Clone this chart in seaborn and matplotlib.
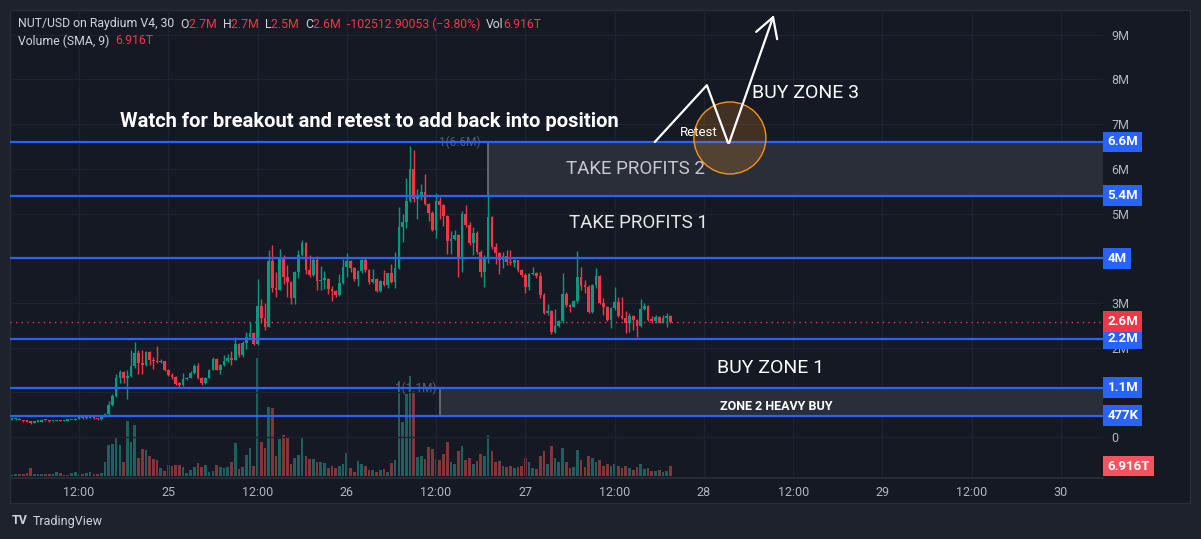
from __future__ import annotations

import matplotlib

matplotlib.use("Agg")
import matplotlib.pyplot as plt
import matplotlib.transforms as mtransforms
import numpy as np
import pandas as pd
import seaborn as sns
from matplotlib.patches import Ellipse, Rectangle

W, H = 1201, 539

# 30 minute bars, bar 0 = 24th 03:00. prices in millions (M), volume in trillions (T)
first_open = 0.39
closes = [
    0.40, 0.41, 0.38, 0.35, 0.34, 0.32, 0.34, 0.345, 0.38, 0.37, 0.35, 0.355, 0.37, 0.36, 0.365, 0.37,
    0.38, 0.41, 0.43, 0.42, 0.43, 0.44, 0.42, 0.40, 0.45, 0.51, 0.72, 0.92, 1.31, 1.46, 1.31, 1.37,
    1.59, 1.87, 1.65, 1.61, 1.90, 1.72, 1.69, 1.68, 1.70, 1.50, 1.39, 1.35, 1.19, 1.17, 1.30, 1.33,
    1.43, 1.59, 1.33, 1.20, 1.33, 1.51, 1.74, 1.51, 1.61, 1.71, 1.77, 1.72, 2.08, 1.83, 2.11, 2.24,
    2.33, 2.07, 2.92, 2.66, 2.45, 3.94, 3.33, 3.30, 4.03, 3.59, 3.47, 3.10, 3.70, 4.07, 4.35, 3.74,
    3.63, 3.96, 3.49, 3.52, 3.53, 3.31, 3.26, 3.18, 3.44, 3.81, 3.94, 3.78, 3.53, 3.71, 3.96, 3.74,
    3.47, 3.53, 3.27, 3.49, 3.40, 3.66, 3.47, 3.79, 4.69, 4.82, 5.28, 6.00, 5.32, 5.37, 5.49, 5.21,
    5.02, 4.63, 5.29, 5.19, 4.94, 4.39, 4.42, 4.52, 4.03, 4.99, 4.74, 4.35, 4.56, 4.15, 3.70, 3.98,
    4.93, 4.26, 4.11, 3.96, 4.05, 3.92, 3.89, 3.95, 3.74, 3.62, 3.35, 3.65, 3.67, 3.60, 3.18, 2.78,
    2.82, 2.36, 2.48, 2.60, 3.20, 2.95, 2.91, 3.04, 3.59, 3.38, 3.36, 2.80, 3.39, 3.60, 2.99, 2.90,
    2.62, 2.88, 3.03, 2.71, 2.66, 2.56, 2.71, 2.62, 2.48, 2.86, 2.93, 2.62, 2.60, 2.68, 2.56, 2.66,
    2.71, 2.58,
]
highs = [
    0.41, 0.43, 0.42, 0.38, 0.36, 0.35, 0.35, 0.36, 0.40, 0.39, 0.38, 0.36, 0.38, 0.38, 0.37, 0.38,
    0.39, 0.42, 0.45, 0.44, 0.44, 0.46, 0.45, 0.43, 0.47, 0.54, 0.80, 0.97, 1.40, 1.50, 1.47, 1.50,
    1.95, 2.13, 1.95, 1.95, 1.93, 1.92, 1.78, 2.04, 1.75, 1.71, 1.52, 1.44, 1.36, 1.23, 1.44, 1.35,
    1.47, 1.63, 1.65, 1.35, 1.35, 1.53, 1.80, 1.77, 1.63, 1.83, 1.85, 1.93, 2.23, 2.10, 2.15, 2.36,
    2.58, 2.36, 3.53, 3.08, 3.00, 4.18, 4.30, 3.70, 4.21, 4.08, 3.85, 3.50, 3.72, 4.18, 4.41, 4.36,
    4.07, 4.00, 4.05, 3.83, 3.71, 3.55, 3.38, 3.28, 3.64, 3.98, 4.11, 3.96, 3.80, 3.73, 3.98, 4.01,
    3.76, 3.76, 3.55, 3.52, 3.74, 3.68, 3.86, 4.14, 5.14, 4.99, 5.80, 6.51, 6.42, 5.54, 5.66, 5.88,
    5.24, 5.05, 5.45, 5.37, 5.21, 4.96, 4.60, 4.63, 4.55, 5.05, 5.20, 4.80, 4.69, 4.60, 4.18, 4.07,
    5.45, 4.95, 4.35, 4.15, 4.15, 4.18, 4.18, 3.98, 3.97, 3.75, 3.66, 3.68, 3.80, 3.70, 3.70, 3.22,
    2.98, 2.84, 2.86, 2.62, 3.68, 3.25, 2.97, 3.06, 4.17, 3.81, 3.51, 3.40, 3.42, 3.77, 3.62, 3.10,
    2.92, 2.90, 3.36, 3.13, 3.14, 2.83, 2.77, 2.73, 2.64, 3.08, 2.99, 2.95, 2.70, 2.74, 2.70, 2.73,
    2.77, 2.72,
]
lows = [
    0.38, 0.39, 0.37, 0.33, 0.33, 0.30, 0.31, 0.33, 0.34, 0.36, 0.34, 0.34, 0.35, 0.35, 0.35, 0.36,
    0.37, 0.37, 0.40, 0.41, 0.41, 0.42, 0.41, 0.39, 0.39, 0.44, 0.50, 0.70, 0.90, 1.20, 1.20, 0.86,
    1.35, 1.55, 1.40, 1.40, 1.58, 1.60, 1.52, 1.66, 1.66, 1.48, 1.36, 1.30, 1.17, 1.10, 1.15, 1.28,
    1.32, 1.42, 1.29, 1.17, 1.18, 1.32, 1.50, 1.49, 1.42, 1.58, 1.68, 1.62, 1.72, 1.80, 1.80, 1.98,
    2.20, 2.05, 2.06, 2.55, 2.40, 2.45, 3.25, 3.14, 3.28, 3.42, 3.14, 2.98, 2.98, 3.55, 4.05, 3.64,
    3.57, 3.60, 3.28, 3.28, 3.32, 3.21, 3.04, 3.14, 3.15, 3.42, 3.59, 3.70, 3.50, 3.38, 3.68, 3.70,
    3.43, 3.45, 3.25, 3.25, 3.38, 3.34, 3.45, 3.34, 3.75, 4.37, 4.67, 5.25, 5.25, 4.88, 5.30, 5.18,
    4.83, 4.60, 4.46, 4.87, 4.72, 4.09, 4.10, 4.40, 3.59, 3.70, 4.70, 4.30, 4.07, 4.10, 3.58, 3.35,
    3.90, 4.20, 3.87, 3.65, 3.79, 3.85, 3.85, 3.80, 3.70, 3.58, 3.23, 3.30, 3.62, 3.56, 3.10, 2.75,
    2.74, 2.30, 2.33, 2.45, 2.55, 2.90, 2.80, 2.90, 3.00, 3.30, 3.23, 2.78, 2.78, 3.33, 2.97, 2.73,
    2.60, 2.43, 2.85, 2.68, 2.64, 2.33, 2.36, 2.39, 2.24, 2.45, 2.84, 2.60, 2.55, 2.55, 2.54, 2.54,
    2.45, 2.54,
]
volumes = [
    0.7, 1.4, 1.4, 1.4, 2.1, 5.4, 1.4, 1.4, 1.4, 1.4, 1.4, 1.4, 2.8, 1.9, 0.7, 0.7, 2.1, 2.8, 1.4, 1.4,
    2.1, 2.8, 1.4, 1.4, 2.1, 9.8, 21.7, 22.4, 26.6, 21.7, 9.8, 37.8, 23.8, 35.0, 12.6, 18.9, 18.2, 14.0,
    11.9, 11.2, 5.6, 3.5, 7.7, 7.0, 7.7, 7.7, 6.3, 2.1, 4.2, 6.3, 9.1, 6.3, 7.7, 2.8, 3.5, 7.7, 6.3,
    5.6, 6.3, 9.8, 23.1, 4.9, 6.3, 14.7, 19.6, 7.0, 81.2, 23.8, 19.6, 47.6, 46.9, 14.0, 25.2, 28.0,
    26.6, 8.4, 12.6, 14.7, 25.9, 14.0, 11.9, 11.9, 9.8, 9.8, 9.1, 5.6, 7.0, 5.6, 7.0, 8.4, 16.1, 5.6,
    2.8, 10.5, 8.4, 7.0, 4.2, 4.2, 2.8, 4.2, 4.9, 2.8, 9.1, 11.2, 65.8, 37.1, 56.7, 69.3, 57.4, 13.3,
    14.0, 11.9, 20.3, 18.9, 11.9, 11.2, 15.4, 23.8, 9.8, 8.4, 17.5, 21.0, 11.2, 12.6, 8.4, 10.5, 15.4,
    14.0, 28.0, 17.5, 9.8, 10.5, 7.0, 6.3, 7.0, 5.6, 6.3, 7.0, 12.6, 9.8, 5.6, 4.9, 14.0, 17.5, 8.4,
    21.0, 12.6, 9.8, 19.6, 9.8, 5.6, 6.3, 18.2, 11.2, 6.3, 14.0, 12.6, 9.8, 11.2, 7.0, 8.4, 7.0, 8.4,
    7.0, 5.6, 7.0, 5.6, 4.2, 6.3, 8.4, 4.9, 5.6, 3.5, 3.5, 4.2, 2.8, 3.5, 6.916,
]

time_ticks = [18, 42, 66, 90, 114, 138, 162, 186, 210, 234, 258, 282]
time_labels = ["12:00", "25", "12:00", "26", "12:00", "27", "12:00", "28", "12:00", "29", "12:00", "30"]
grid_prices = [0, 1, 2, 3, 4, 5, 6, 7, 8, 9]
# 1M and 4M sit fully under the 1.1M / 4M tags, so they are not written
price_ticks = [0, 2, 3, 5, 6, 7, 8, 9]
price_labels = ["0", "2M", "3M", "5M", "6M", "7M", "8M", "9M"]

level_prices = [6.6, 5.4, 4.0, 2.2, 1.1, 0.477]
level_labels = ["6.6M", "5.4M", "4M", "2.2M", "1.1M", "477K"]

# drawings (bar index, price)
take_profit_zone = (128, 5.4, 6.6)
heavy_buy_zone = (115, 0.477, 1.1)
retest_path_x = [172.8, 186.8, 192.5]
retest_path_y = [6.60, 7.87, 6.58]
breakout_start = (192.8, 6.58)
breakout_end = (204.8, 9.44)
retest_circle = (193.0, 6.69)

X_MIN, X_MAX = -0.54, 293.3
Y_MIN, Y_MAX = -0.917, 9.553
VOL_MIN, VOL_MAX = -1.38, 321.5

FRAME = "#1e222d"
PANE = "#151924"
BORDER = "#2a2e39"
GRID = "#1f2330"
GREEN = "#089981"
RED = "#f23645"
VOL_UP = "#1e605f"
VOL_DOWN = "#82363a"
BLUE = "#2962ff"
AXIS_TXT = "#b2b5be"
HEAD_TXT = "#d1d4dc"


def text_run(fig, x_px, y_px, parts, size):
    renderer = fig.canvas.get_renderer()
    x = x_px
    for s, color in parts:
        t = fig.text(x / W, 1 - y_px / H, s, color=color, fontsize=size, va="center", ha="left")
        x += t.get_window_extent(renderer).width


def price_tag(ax, y, label, color, size=9.5):
    trans = mtransforms.blended_transform_factory(ax.transAxes, ax.transData) + mtransforms.ScaledTranslation(
        3.2 / 72, 0, ax.figure.dpi_scale_trans
    )
    ax.text(
        1.0, y, label, transform=trans, ha="left", va="center", color="white", fontsize=size,
        fontweight="bold", clip_on=False, zorder=10,
        bbox=dict(boxstyle="square,pad=0.3", fc=color, ec="none"),
    )


def main() -> None:
    sns.set_theme(style="dark")
    plt.rcParams["font.family"] = ["Roboto", "DejaVu Sans"]

    o = np.r_[first_open, closes[:-1]]
    c = np.array(closes)
    hi = np.array(highs)
    lo = np.array(lows)
    bars = np.arange(len(c))
    up = c >= o
    df = pd.DataFrame({"bar": bars, "volume": volumes, "dir": np.where(up, "up", "down")})

    fig = plt.figure(figsize=(W / 100, H / 100), dpi=100, facecolor=FRAME)
    fig.patches.append(
        Rectangle((10 / W, 1 - 503 / H), 1180 / W, 493 / H, transform=fig.transFigure,
                  fc=PANE, ec=BORDER, lw=1, zorder=-1)
    )
    ax = fig.add_axes([10 / W, 1 - 478 / H, 1093 / W, 468 / H])
    ax_v = ax.twinx()
    ax_v.set_zorder(0)
    ax.set_zorder(1)
    for a in (ax, ax_v):
        a.patch.set_visible(False)
        for sp in a.spines.values():
            sp.set_visible(False)

    # volume
    sns.barplot(
        data=df, x="bar", y="volume", hue="dir", palette={"up": VOL_UP, "down": VOL_DOWN},
        native_scale=True, width=0.72, dodge=False, saturation=1, errorbar=None,
        legend=False, linewidth=0, ax=ax_v,
    )
    ax_v.set_ylim(VOL_MIN, VOL_MAX)
    ax_v.set_yticks([])
    ax_v.set_ylabel("")
    ax_v.set_xlabel("")

    # grid
    for t in time_ticks:
        ax.axvline(t, color=GRID, lw=1, zorder=0)
    for p in grid_prices:
        ax.axhline(p, color=GRID, lw=1, zorder=0)

    # zones
    for x0, y0, y1 in (take_profit_zone, heavy_buy_zone):
        ax.add_patch(Rectangle((x0, y0), X_MAX - x0, y1 - y0, fc="#2a2e39", ec="none", zorder=1))
        ax.vlines(x0, y0, y1, color="#6a6d78", lw=1.3, zorder=2)
    ax.text(take_profit_zone[0] - 2, 6.6, "1(6.6M)", color="#5d606b", fontsize=8.5, ha="right", va="center", zorder=2)
    ax.text(heavy_buy_zone[0] - 1, 1.1, "1(1.1M)", color="#5d606b", fontsize=8.5, ha="right", va="center", zorder=2)

    # candles
    colors = np.where(up, GREEN, RED)
    ax.vlines(bars, lo, hi, colors=colors, lw=1, zorder=3)
    ax.bar(bars, np.maximum(np.abs(c - o), 0.03), bottom=np.minimum(c, o), width=0.72,
           color=colors, lw=0, zorder=4)

    ax.axhline(c[-1], color=RED, lw=1, ls=(0, (1, 3)), zorder=2)
    for p in level_prices:
        ax.axhline(p, color=BLUE, lw=1.6, zorder=5)

    # retest drawing
    ax.add_patch(Ellipse(retest_circle, 72 / 3.72, 72 / 44.7, fc=(0.97, 0.58, 0.1, 0.2),
                         ec="#f7931a", lw=1, zorder=6))
    ax.plot(retest_path_x, retest_path_y, color="white", lw=1.6, zorder=7, solid_capstyle="round")
    ax.annotate("", xy=breakout_end, xytext=breakout_start, zorder=7,
                arrowprops=dict(arrowstyle="->,head_length=0.7,head_width=0.4", color="white", lw=1.6,
                                mutation_scale=20, shrinkA=0, shrinkB=0))

    # labels
    ax.text(96, 7.05, "Watch for breakout and retest to add back into position", color="white",
            fontsize=14.5, fontweight="bold", ha="center", va="center", zorder=8)
    ax.text(167.7, 6.0, "TAKE PROFITS 2", color="#c7c9cf", fontsize=13.5, ha="center", va="center", zorder=8)
    ax.text(168.3, 4.79, "TAKE PROFITS 1", color="#e8e8e8", fontsize=13.5, ha="center", va="center", zorder=8)
    ax.text(213.2, 7.70, "BUY ZONE 3", color="white", fontsize=14, ha="center", va="center", zorder=8)
    ax.text(203.8, 1.54, "BUY ZONE 1", color="white", fontsize=14, ha="center", va="center", zorder=8)
    ax.text(205.4, 0.69, "ZONE 2 HEAVY BUY", color="white", fontsize=9, fontweight="bold",
            ha="center", va="center", zorder=8)
    ax.text(184.7, 6.82, "Retest", color="white", fontsize=9.5, ha="center", va="center", zorder=8)

    # axes
    ax.set_xlim(X_MIN, X_MAX)
    ax.set_ylim(Y_MIN, Y_MAX)
    ax.set_xticks(time_ticks, time_labels)
    ax.yaxis.tick_right()
    ax.set_yticks(price_ticks, price_labels)
    ax.tick_params(axis="y", length=0, pad=6, labelcolor=AXIS_TXT, labelsize=9)
    ax.tick_params(axis="x", length=0, pad=6, labelcolor=AXIS_TXT, labelsize=9)
    ax.grid(False)
    ax_v.grid(False)
    ax.spines["bottom"].set_visible(True)
    ax.spines["bottom"].set_color(BORDER)

    for p, lab in zip(level_prices, level_labels):
        price_tag(ax, p, lab, BLUE)
    price_tag(ax, c[-1], f"{c[-1]:.1f}M", RED)
    price_tag(ax, (437 - 466) / 44.7, "6.916T", "#f7525f")

    # header
    gray, red = HEAD_TXT, RED
    text_run(fig, 18, 24, [
        ("NUT/USD on Raydium V4, 30  ", gray), ("O", gray), ("2.7M  ", red), ("H", gray), ("2.7M  ", red),
        ("L", gray), ("2.5M  ", red), ("C", gray), ("2.6M  ", red), ("-102512.90053 (\u22123.80%)  ", red),
        ("Vol", gray), ("6.916T", red),
    ], 8.8)
    text_run(fig, 18, 41, [("Volume (SMA, 9)  ", gray), ("6.916T", red)], 8.8)

    fig.text(12 / W, 1 - 521 / H, "TV", color=HEAD_TXT, fontsize=9, fontweight="bold", va="center")
    fig.text(33 / W, 1 - 521 / H, "TradingView", color=HEAD_TXT, fontsize=9, va="center")

    fig.savefig("out.png", dpi=100, facecolor=FRAME)
    plt.close(fig)


if __name__ == "__main__":
    main()
